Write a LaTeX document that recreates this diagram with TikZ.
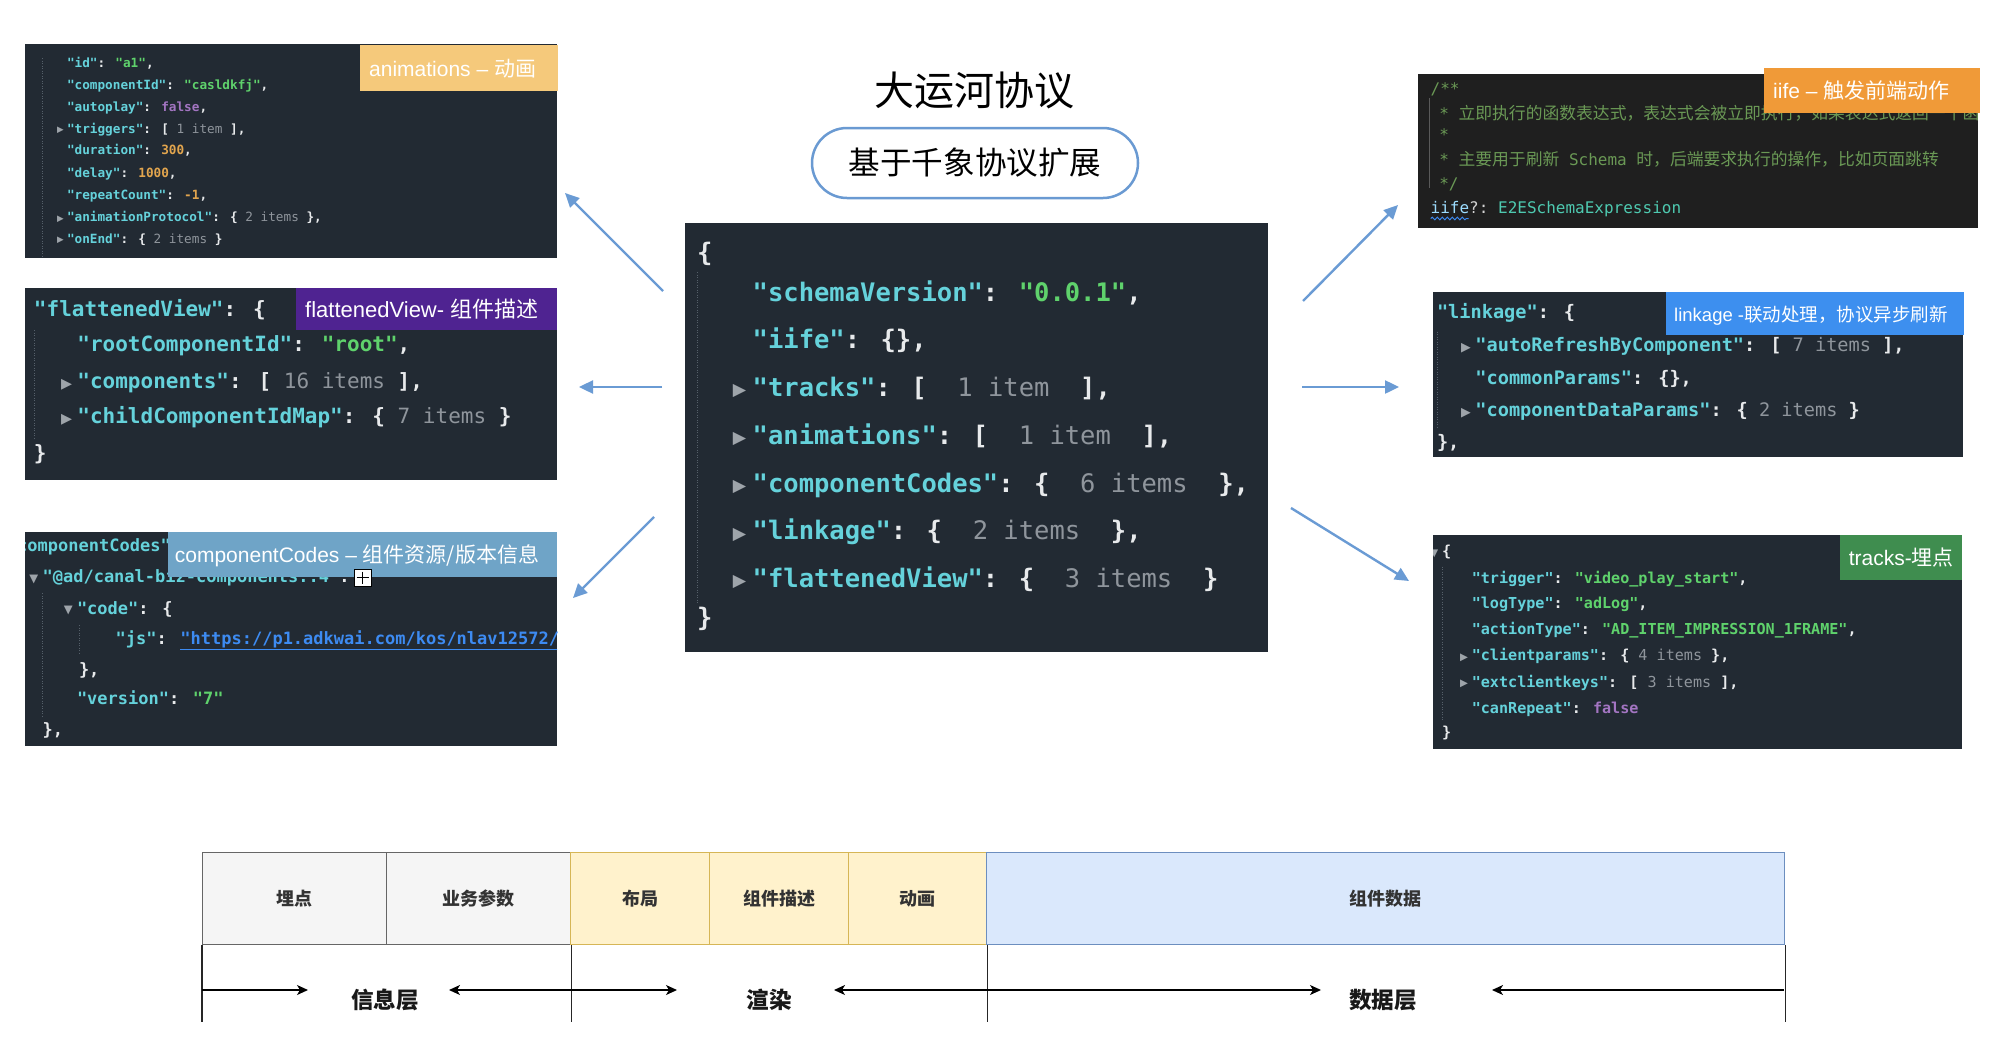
\documentclass[tikz,border=0pt]{standalone}
\usepackage{fontspec}
\usepackage{graphicx}
\setmainfont{Liberation Sans}
\newfontfamily\mono{DejaVu Sans Mono}
\newfontfamily\dejavu{DejaVu Sans}
\newfontfamily\cjk{Noto Sans CJK SC}
\usetikzlibrary{arrows.meta,decorations.pathmorphing}
\definecolor{pbg}{HTML}{222A33}
\definecolor{vbg}{HTML}{1F1F1F}
\definecolor{kc}{HTML}{65D2DB}
\definecolor{sc}{HTML}{5FD26C}
\definecolor{nc}{HTML}{E2A54E}
\definecolor{fc}{HTML}{A375C2}
\definecolor{gc}{HTML}{8F959C}
\definecolor{wc}{HTML}{E8EAEC}
\definecolor{tc}{HTML}{9EA4AA}
\definecolor{uc}{HTML}{3D8BF2}
\definecolor{cmt}{HTML}{6A9955}
\definecolor{vkey}{HTML}{9CDCFE}
\definecolor{vtyp}{HTML}{4EC9B0}
\definecolor{vpun}{HTML}{D4D4D4}
\definecolor{arrc}{HTML}{6A9BD4}
\definecolor{pillc}{HTML}{6A9AD2}
\definecolor{guide}{HTML}{56606A}
\definecolor{tgA}{HTML}{F5C97B}
\definecolor{tgB}{HTML}{4F2391}
\definecolor{tgC}{HTML}{6FA4C7}
\definecolor{tgD}{HTML}{F09A38}
\definecolor{tgE}{HTML}{3D8FEF}
\definecolor{tgF}{HTML}{3F8D4F}
\definecolor{gfill}{HTML}{F5F5F5}
\definecolor{gdraw}{HTML}{666666}
\definecolor{yfill}{HTML}{FFF2CC}
\definecolor{ydraw}{HTML}{D6B656}
\definecolor{bfill}{HTML}{DAE8FC}
\definecolor{bdraw}{HTML}{6C8EBF}
\definecolor{txt}{HTML}{333333}
\newcommand\Q[1]{\textcolor{kc}{"#1"}}
\newcommand\Sv[1]{\textcolor{sc}{"#1"}}
\newcommand\Gi[1]{\textcolor{gc}{\mdseries #1}}
\newcommand\ta{\llap{\raisebox{0.02em}{\scalebox{0.68}{\textcolor{tc}{\dejavu ▶}}}\hspace{0.25em}}}
\newcommand\tdn{\llap{\raisebox{0.02em}{\scalebox{0.68}{\textcolor{tc}{\dejavu ▼}}}\hspace{0.25em}}}
\newcommand\cj[1]{{\cjk\fontsize{16.8}{20}\selectfont #1}}
\begin{document}
\begin{tikzpicture}[x=1pt,y=-1pt,
  pnl/.style={fill=#1, inner sep=0pt, outer sep=0pt, anchor=north west},
  ln/.style={anchor=west, inner sep=0pt, outer sep=0pt, text=wc},
  fA/.style={ln, font=\mono\bfseries\fontsize{12.7}{15}\selectfont, text height=9.5pt, text depth=3.2pt},
  fB/.style={ln, font=\mono\bfseries\fontsize{21}{25}\selectfont, text height=15.75pt, text depth=5.25pt},
  fC/.style={ln, font=\mono\bfseries\fontsize{17}{20}\selectfont, text height=12.75pt, text depth=4.25pt},
  fM/.style={ln, font=\mono\bfseries\fontsize{25.5}{30}\selectfont, text height=19.1pt, text depth=6.4pt},
  fD/.style={ln, font=\mono\fontsize{16}{19}\selectfont, text=cmt, text height=12pt, text depth=4pt},
  fE/.style={ln, font=\mono\bfseries\fontsize{18.6}{22}\selectfont, text height=14pt, text depth=4.65pt},
  fF/.style={ln, font=\mono\bfseries\fontsize{15.1}{18}\selectfont, text height=11.3pt, text depth=3.8pt},
  tagtxt/.style={anchor=west, inner sep=0pt, text=white, font=\fontsize{21}{25}\selectfont, text height=18pt, text depth=3pt},
  gl/.style={draw=guide, line width=0.8pt, dash pattern=on 1pt off 1.5pt},
  lnk/.style={draw=arrc, line width=2.4pt, -{Triangle[length=14pt,width=13pt]}},
  gbox/.style={draw=gdraw, fill=gfill, line width=1.3pt, minimum height=92pt, inner sep=0pt, anchor=north west, font=\cjk\bfseries\fontsize{18}{22}\selectfont, text=txt},
  ybox/.style={gbox, draw=ydraw, fill=yfill},
  bbox/.style={gbox, draw=bdraw, fill=bfill},
  vl/.style={draw=black!85, line width=1.3pt},
  barr/.style={draw=black, line width=1.3pt, -{Stealth[length=11pt,width=10pt,inset=3pt]}},
  lay/.style={font=\cjk\bfseries\fontsize{22.6}{26}\selectfont, text=black!90, inner sep=0pt}
]
\useasboundingbox (0,0) rectangle (2000,1044);
\fill[white] (0,0) rectangle (2000,1044);

% ---------- title ----------
\node[font=\cjk\fontsize{40}{48}\selectfont, inner sep=0pt] (title) at (974,90) {大运河协议};
\node[draw=pillc, line width=2.5pt, rounded corners=35pt, minimum width=326pt, minimum height=70pt, inner sep=0pt, font=\cjk\fontsize{31.6}{38}\selectfont] (pill) at (975,163) {基于千象协议扩展};

% ---------- panel A: animations ----------
\node[pnl=pbg, minimum width=532pt, minimum height=214pt] (pA) at (25,44) {};
\draw[gl] (42.6,58) -- (42.6,256);
\node[fA] (a1) at (67,64) {\Q{id}: \Sv{a1},};
\node[fA] (a2) at (67,86.7) {\Q{componentId}: \Sv{casldkfj},};
\node[fA] (a3) at (67,108.3) {\Q{autoplay}: \textcolor{fc}{false},};
\node[fA] (a4) at (67,130) {\ta\Q{triggers}: [~\Gi{1 item}~],};
\node[fA] (a5) at (67,151.7) {\Q{duration}: \textcolor{nc}{300},};
\node[fA] (a6) at (67,174.3) {\Q{delay}: \textcolor{nc}{1000},};
\node[fA] (a7) at (67,196) {\Q{repeatCount}: \textcolor{nc}{-1},};
\node[fA] (a8) at (67,218.3) {\ta\Q{animationProtocol}: \{~\Gi{2 items}~\},};
\node[fA] (a9) at (67,240) {\ta\Q{onEnd}: \{~\Gi{2 items}~\}};
\node[pnl=tgA, minimum width=198pt, minimum height=46pt] (tA) at (360,45) {};
\node[tagtxt] (tAt) at (369,69) {animations – {\cjk 动画}};

% ---------- panel B: flattenedView ----------
\node[pnl=pbg, minimum width=532pt, minimum height=192pt] (pB) at (25,288) {};
\draw[gl] (34.6,330) -- (34.6,438);
\node[fB] (b1t) at (34,311) {\Q{flattenedView}: \{};
\node[fB] (b2t) at (77.4,346.7) {\Q{rootComponentId}: \Sv{root},};
\node[fB] (b3t) at (77.4,383.3) {\ta\Q{components}: [~\Gi{16 items}~],};
\node[fB] (b4t) at (77.4,418.3) {\ta\Q{childComponentIdMap}: \{~\Gi{7 items}~\}};
\node[fB] (b5t) at (34,455) {\}};
\node[pnl=tgB, minimum width=261pt, minimum height=42pt] (tB) at (296,288) {};
\node[tagtxt, font=\fontsize{22}{26}\selectfont] (tBt) at (305,310) {flattenedView- {\cjk 组件描述}};

% ---------- panel C: componentCodes ----------
\node[pnl=pbg, minimum width=532pt, minimum height=214pt] (pC) at (25,532) {};
\begin{scope}
\clip (pC.north west) rectangle (pC.south east);
\draw[gl] (42.6,593) -- (42.6,717);
\draw[gl] (79,625) -- (79,655);
\node[fC] (c1) at (7,547.7) {\Q{componentCodes}: \{};
\node[fC] (c2) at (42.6,578.3) {\tdn\Q{@ad/canal-biz-components::4}:};
\node[fC] (c3) at (77,610) {\tdn\Q{code}: \{};
\node[fC] (c4) at (115.6,640) {\Q{js}: \textcolor{uc}{\underline{"https://p1.adkwai.com/kos/nlav12572/}}};
\node[fC] (c5) at (79,671.7) {\},};
\node[fC] (c6) at (77,700) {\Q{version}: \Sv{7}};
\node[fC] (c7) at (42.6,731.7) {\},};
\end{scope}
\node[pnl=tgC, minimum width=389pt, minimum height=45pt] (tC) at (168,532) {};
\node[tagtxt] (tCt) at (174.7,555) {componentCodes – {\cjk 组件资源/版本信息}};
\node[draw=black, fill=white, line width=1pt, minimum size=17pt, inner sep=0pt] (plus) at (362.5,577.5) {};
\draw[black, line width=1.6pt] ([xshift=3pt]plus.west) -- ([xshift=-3pt]plus.east);
\draw[black, line width=1.6pt] ([yshift=-3pt]plus.north) -- ([yshift=3pt]plus.south);

% ---------- center panel ----------
\node[pnl=pbg, minimum width=583pt, minimum height=429pt] (pM) at (685,223) {};
\draw[gl] (697,272) -- (697,603);
\node[fM] (m0) at (697,255) {\{};
\node[fM] (m1) at (752.7,295) {\Q{schemaVersion}: \Sv{0.0.1},};
\node[fM] (m2) at (752.7,341.7) {\Q{iife}: \{\},};
\node[fM] (m3) at (752.7,390) {\ta\Q{tracks}: [~~\Gi{1 item}~~],};
\node[fM] (m4) at (752.7,437.7) {\ta\Q{animations}: [~~\Gi{1 item}~~],};
\node[fM] (m5) at (752.7,485.7) {\ta\Q{componentCodes}: \{~~\Gi{6 items}~~\},};
\node[fM] (m6) at (752.7,533.3) {\ta\Q{linkage}: \{~~\Gi{2 items}~~\},};
\node[fM] (m7) at (752.7,581) {\ta\Q{flattenedView}: \{~~\Gi{3 items}~~\}};
\node[fM] (m8) at (697,620) {\}};

% ---------- panel D: iife ----------
\node[pnl=vbg, minimum width=560pt, minimum height=154pt] (pD) at (1418,74) {};
\begin{scope}
\clip (pD.north west) rectangle (pD.south east);
\draw[draw=black!65, line width=1pt] (1429.6,98) -- (1429.6,188);
\node[fD] (d1) at (1430.7,90) {/**};
\node[fD] (d2) at (1439.3,115) {*~\cj{立即执行的函数表达式，表达式会被立即执行，如果表达式返回一个函数，}};
\node[fD] (d3) at (1439.3,136.7) {*};
\node[fD] (d4) at (1439.3,161.7) {*~\cj{主要用于刷新}~Schema~\cj{时，后端要求执行的操作，比如页面跳转}};
\node[fD] (d5) at (1439.3,185) {*/};
\node[fD] (d6) at (1430.7,209) {\textcolor{vkey}{iife}\textcolor{vpun}{?:~}\textcolor{vtyp}{E2ESchemaExpression}};
\draw[draw=uc, line width=1pt, decorate, decoration={snake, amplitude=1.3pt, segment length=5pt}] ([yshift=-1.5pt]d6.south west) -- ++(38,0);
\end{scope}
\node[pnl=tgD, minimum width=216pt, minimum height=45pt] (tD) at (1764,68) {};
\node[tagtxt] (tDt) at (1773,90.5) {iife – {\cjk 触发前端动作}};

% ---------- panel E: linkage ----------
\node[pnl=pbg, minimum width=530pt, minimum height=165pt] (pE) at (1433,292) {};
\draw[gl] (1437,331.7) -- (1437,428);
\node[fE] (e1) at (1437,314.3) {\Q{linkage}: \{};
\node[fE] (e2) at (1475.4,346.7) {\ta\Q{autoRefreshByComponent}: [~\Gi{7 items}~],};
\node[fE] (e3) at (1475.4,380) {\Q{commonParams}: \{\},};
\node[fE] (e4) at (1475.4,411.7) {\ta\Q{componentDataParams}: \{~\Gi{2 items}~\}};
\node[fE] (e5) at (1437,444.3) {\},};
\node[pnl=tgE, minimum width=298pt, minimum height=43pt] (tE) at (1666,292) {};
\node[tagtxt, font=\fontsize{18.5}{22}\selectfont] (tEt) at (1674,313.5) {linkage -{\cjk 联动处理，协议异步刷新}};

% ---------- panel F: tracks ----------
\node[pnl=pbg, minimum width=529pt, minimum height=214pt] (pF) at (1433,535) {};
\begin{scope}
\clip (pF.north west) rectangle (pF.south east);
\draw[gl] (1442,566.7) -- (1442,721.7);
\node[fF] (f1) at (1442,553) {\tdn\{};
\node[fF] (f2) at (1471.8,579.3) {\Q{trigger}: \Sv{video\_play\_start},};
\node[fF] (f3) at (1471.8,605) {\Q{logType}: \Sv{adLog},};
\node[fF] (f4) at (1471.8,630.7) {\Q{actionType}: \Sv{AD\_ITEM\_IMPRESSION\_1FRAME},};
\node[fF] (f5) at (1471.8,656.7) {\ta\Q{clientparams}: \{~\Gi{4 items}~\},};
\node[fF] (f6) at (1471.8,683.3) {\ta\Q{extclientkeys}: [~\Gi{3 items}~],};
\node[fF] (f7) at (1471.8,709.3) {\Q{canRepeat}: \textcolor{fc}{false}};
\node[fF] (f8) at (1442,734) {\}};
\end{scope}
\node[pnl=tgF, minimum width=122pt, minimum height=45pt] (tF) at (1840,535) {};
\node[tagtxt] (tFt) at (1848.6,558) {tracks-{\cjk 埋点}};

% ---------- blue connectors ----------
\coordinate (l1s) at (663,291); \coordinate (l1e) at (565,193);
\coordinate (l2s) at (662,387); \coordinate (l2e) at (579,387);
\coordinate (l3s) at (654,517); \coordinate (l3e) at (573,598);
\coordinate (r1s) at (1303,301); \coordinate (r1e) at (1398,205);
\coordinate (r2s) at (1302,387); \coordinate (r2e) at (1399,387);
\coordinate (r3s) at (1291,508); \coordinate (r3e) at (1409,581);
\draw[lnk] (l1s) -- (l1e);
\draw[lnk] (l2s) -- (l2e);
\draw[lnk] (l3s) -- (l3e);
\draw[lnk] (r1s) -- (r1e);
\draw[lnk] (r2s) -- (r2e);
\draw[lnk] (r3s) -- (r3e);

% ---------- bottom layer bar ----------
\node[gbox, minimum width=184pt] (bx1) at (202,852) {埋点};
\node[gbox, minimum width=184pt] (bx2) at (386,852) {业务参数};
\node[ybox, minimum width=139pt] (bx3) at (570,852) {布局};
\node[ybox, minimum width=139pt] (bx4) at (709,852) {组件描述};
\node[ybox, minimum width=138pt] (bx5) at (848,852) {动画};
\node[bbox, minimum width=798pt] (bx6) at (986,852) {组件数据};
\draw[vl] (bx1.south west) -- ++(0,77);
\draw[vl] (bx2.south east) -- ++(0,77);
\draw[vl] (bx5.south east) -- ++(0,77);
\draw[vl] (bx6.south east) -- ++(0,77);
\coordinate (h1) at (202,990); \coordinate (h1r) at (308,990);
\coordinate (h2) at (570,990); \coordinate (h2l) at (449,990); \coordinate (h2r) at (677,990);
\coordinate (h3) at (986,990); \coordinate (h3l) at (834,990); \coordinate (h3r) at (1321,990);
\coordinate (h4) at (1784,990); \coordinate (h4l) at (1492,990);
\draw[barr] (h1) -- (h1r);
\draw[barr] (h2) -- (h2l);
\draw[barr] (h2) -- (h2r);
\draw[barr] (h3) -- (h3l);
\draw[barr] (h3) -- (h3r);
\draw[barr] (h4) -- (h4l);
\node[lay] (L1) at (385,1000) {信息层};
\node[lay] (L2) at (769,1000) {渲染};
\node[lay] (L3) at (1383,1000) {数据层};
\end{tikzpicture}
\end{document}
